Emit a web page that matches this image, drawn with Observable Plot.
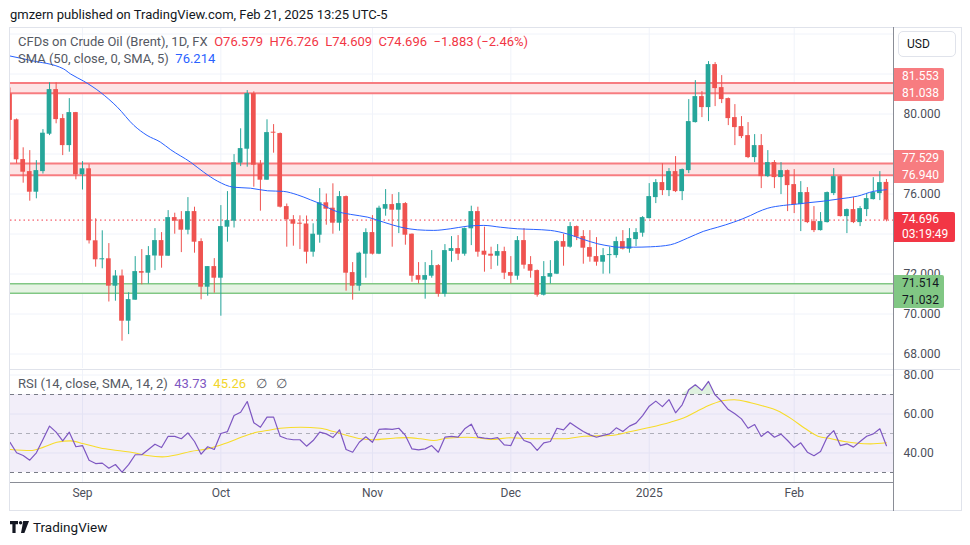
<!DOCTYPE html>
<html><head><meta charset="utf-8">
<script src="https://cdn.jsdelivr.net/npm/d3@7"></script>
<script src="https://cdn.jsdelivr.net/npm/@observablehq/plot@0.6"></script>
<style>
body{margin:0;width:970px;height:545px;background:#fff;font-family:Roboto,"Liberation Sans",sans-serif;position:relative;overflow:hidden;color:#131722}
.abs{position:absolute}
#hdr{left:10px;top:7px;font-size:13px;line-height:16px;white-space:pre;color:#131722}
.leg{position:absolute;font-size:13px;line-height:16px;color:#555963;white-space:pre}
.tag{position:absolute;font-size:12px;box-sizing:border-box;padding-left:8px;white-space:pre;border-radius:0 2px 2px 0}
#usd{left:898px;top:31px;width:58px;height:26px;box-sizing:border-box;border:1px solid #e0e3eb;border-radius:5px;font-size:12px;line-height:24px;padding-left:8px;background:#fff}
#brand{left:10px;top:519px;font-size:13.5px;line-height:16px;display:flex;align-items:center;gap:4px;color:#131722}
</style></head>
<body>
<div id="hdr" class="abs">gmzern published on TradingView.com, Feb 21, 2025 13:25 UTC-5</div>
<div id="price" class="abs" style="left:0;top:27px"></div>
<div id="rsi" class="abs" style="left:0;top:369px"></div>
<div id="deco"></div>
<script>
// ---------- data ----------
const open = [81.0,79.71,77.72,77.12,76.09,77.12,78.99,81.22,79.77,78.42,
80.07,76.96,77.26,73.66,72.71,72.76,71.39,71.9,69.64,70.69,
72.12,72.04,72.9,73.67,72.89,74.82,74.71,74.19,75.12,73.62,
71.34,72.37,71.79,74.34,74.64,77.54,78.24,81.02,77.49,76.69,
79.07,79.02,75.37,74.71,74.52,74.5,73.09,73.94,75.56,75.29,
74.54,75.87,72.07,71.39,72.99,74.07,72.99,75.24,75.47,75.19,
75.52,73.99,71.92,71.69,71.89,72.42,70.99,73.13,73.27,72.99,
74.26,75.12,73.14,72.99,72.89,73.12,72.07,71.89,73.67,72.47,
72.17,70.94,71.84,71.99,73.62,73.34,74.37,73.87,73.32,72.87,
72.59,72.92,72.92,73.62,73.24,73.72,74.04,74.77,75.82,76.57,
76.17,77.12,76.12,77.17,79.57,80.87,80.32,82.47,81.32,80.77,
79.82,79.37,78.92,77.82,78.42,76.87,77.57,76.82,77.17,76.47,
75.47,76.07,74.62,74.17,74.57,76.02,76.87,74.87,75.22,74.57,
75.22,75.72,76.02,76.579];
const high = [81.3,79.75,78.31,78.17,77.67,79.22,81.56,81.56,79.97,80.77,
80.08,77.62,77.47,74.76,74.16,73.52,72.17,72.2,71.06,72.87,
73.22,73.37,74.27,74.07,75.17,75.04,75.12,75.82,75.34,73.76,
72.37,72.77,75.42,76.12,77.97,79.26,81.17,81.11,77.67,79.71,
79.47,79.05,75.5,74.92,74.91,74.9,74.51,76.27,76.0,76.51,
76.12,75.9,72.57,73.09,74.26,74.92,75.39,76.22,75.97,76.07,
75.57,74.0,72.57,72.57,73.17,72.47,73.47,73.87,73.92,74.3,
75.39,75.34,74.34,73.34,73.47,73.34,72.87,73.87,74.27,72.87,
72.2,72.62,72.67,73.67,73.99,74.57,74.4,74.17,74.17,73.82,
73.27,73.34,73.84,74.17,74.27,74.27,74.87,76.52,76.72,77.52,
77.27,77.87,77.25,80.72,81.67,81.12,82.62,82.57,81.92,80.8,
80.47,79.87,79.57,78.97,78.97,78.17,77.67,77.57,77.2,77.22,
76.62,76.32,75.37,75.07,76.1,77.27,76.9,75.25,75.82,75.37,
76.02,76.82,77.12,76.726];
const low = [78.68,77.51,76.54,75.64,75.76,77.0,78.92,79.51,77.92,78.09,
76.71,76.2,73.5,72.34,72.26,70.6,70.64,68.64,68.97,70.69,
71.46,71.5,72.17,72.29,72.89,73.99,73.07,73.96,73.04,70.71,
70.89,71.04,69.89,73.59,74.3,77.37,77.34,76.34,75.14,76.69,
78.04,75.3,73.34,73.39,73.22,72.5,72.84,73.54,74.44,73.99,
74.14,71.14,70.69,71.14,71.79,72.95,72.97,74.89,73.34,74.02,
73.44,71.59,71.5,70.74,71.79,70.84,70.84,72.59,72.67,72.89,
73.42,72.84,72.09,72.22,72.39,71.72,71.5,71.69,72.24,71.79,
70.84,70.9,71.5,71.97,72.39,73.29,73.67,72.49,72.59,72.39,
71.99,72.0,72.79,73.2,73.04,73.37,73.84,74.75,75.52,75.92,
75.87,76.07,75.67,77.02,79.55,79.82,79.62,80.37,80.52,79.42,
78.42,78.77,77.77,77.57,76.27,76.82,76.27,75.97,75.12,75.02,
74.12,74.52,74.07,74.15,74.55,75.92,74.85,74.02,74.52,74.37,
74.87,75.7,75.67,74.609];
const close = [79.68,77.71,77.09,76.09,77.17,79.04,81.22,79.72,78.42,80.07,
76.96,77.26,73.66,72.71,72.76,71.39,71.9,69.64,70.72,72.12,
72.04,72.92,73.67,72.89,74.82,74.64,74.19,75.12,73.59,71.34,
72.37,71.79,74.37,74.67,77.57,78.27,81.02,77.44,76.69,79.07,
79.04,75.34,74.71,74.49,74.49,73.09,73.99,75.56,75.24,74.54,
75.87,72.04,71.39,73.04,74.07,72.99,75.29,75.47,75.19,75.52,
73.94,71.89,71.69,71.92,72.42,70.99,73.17,73.27,72.99,74.27,
75.12,73.09,72.94,72.89,73.12,72.04,71.89,73.67,72.44,72.14,
70.94,71.87,72.02,73.62,73.34,74.37,73.84,73.29,72.84,72.59,
72.92,72.97,73.62,73.24,73.77,74.07,74.82,75.87,76.57,76.17,
77.12,76.12,77.22,79.62,80.87,80.32,82.47,81.27,80.72,79.77,
79.32,78.87,77.82,78.42,76.87,77.57,76.82,77.17,76.42,75.47,
76.07,74.57,74.17,74.62,76.07,76.87,74.87,75.22,74.57,75.27,
75.77,76.07,76.57,74.696];

// SMA(50) readings: bar index -> value
const smaIdx = [0,3.1,8.1,9.2,11.2,13.7,16.3,18.8,20.8,22.8,24.4,27.4,29.4,31.5,33.9,36.5,39.1,41.5,43.6,45.6,47.5,49.1,51.7,54.3,56.7,59.3,61.8,64.3,66.8,69.4,71.9,74.4,77.0,79.4,82.0,84.6,87.0,89.2,91.1,92.2,94.6,97.2,100.2,102.8,105.2,107.4,109.8,112.4,113.4,115.0,117.4,119.5,121.0,123.4,126.0,128.6,131.0,133];
const smaVal = [82.9,82.68,82.26,82.0,81.64,81.09,80.34,79.43,78.93,78.6,78.21,77.59,77.09,76.64,76.34,76.29,76.16,76.13,75.96,75.71,75.45,75.18,74.98,74.84,74.59,74.34,74.21,74.18,74.26,74.39,74.43,74.34,74.26,74.23,74.18,74.0,73.73,73.51,73.39,73.34,73.34,73.36,73.46,73.79,74.13,74.34,74.59,74.93,75.09,75.29,75.43,75.5,75.56,75.64,75.76,75.89,76.13,76.214];

const rsi = [45.5,40.1,38.7,36.3,40.1,46.9,53.8,50.7,46.2,50.7,
43.2,43.8,36.3,34.6,34.8,32.2,34.1,30.2,34.0,39.1,
39.1,41.8,44.5,42.8,48.6,48.5,47.3,50.3,45.9,39.4,
43.2,41.8,50.0,51.0,59.2,60.9,66.4,55.5,53.2,58.4,
58.4,48.6,47.3,46.8,46.8,43.5,46.4,50.7,49.8,47.9,
51.9,41.8,40.4,45.5,48.3,45.5,52.1,52.4,52.1,52.7,
49.0,42.1,41.6,42.1,43.8,40.4,48.1,48.5,48.1,52.4,
54.8,48.1,47.6,47.3,47.9,44.2,43.8,51.0,46.4,45.2,
41.3,45.2,45.9,52.7,51.9,55.5,53.2,51.0,49.3,48.1,
49.0,49.8,52.9,51.0,53.8,55.3,59.2,64.0,66.6,63.8,
67.4,60.6,64.7,72.4,75.0,72.1,76.7,69.8,66.4,62.3,
60.1,57.5,52.7,54.6,48.5,51.0,48.1,49.7,46.4,42.8,
45.2,40.4,38.6,40.8,48.1,51.5,43.8,44.7,43.0,45.9,
48.6,49.8,52.4,43.73];
const rsiMaIdx = [0,3.1,5.1,7.1,9.2,11.2,13.7,16.3,18.8,20.8,23.1,25.4,27.4,29.9,32.5,34.5,37.0,39.0,41.0,44.1,47.1,49.1,51.2,53.2,55.2,58.2,60.3,62.3,64.3,66.3,69.4,71.4,73,76,79.1,84.1,87.1,91.2,94.2,97.2,100.2,102.2,104.2,106.3,108.3,109.9,112.4,114.4,116.4,118.6,120.6,122.6,124.6,126.6,128.6,130.6,133];
const rsiMaVal = [41.8,41.3,43.0,45.5,46.2,44.7,42.6,41.3,40.1,38.7,38.0,39.1,40.8,42.1,44.7,47.3,50.3,51.5,52.7,53.2,52.7,51.0,49.0,47.3,46.8,47.6,47.9,47.3,46.4,47.6,48.1,47.6,46.9,47.8,47.3,47.3,48.6,49.0,51.0,53.2,55.8,57.9,61.3,64.7,66.9,67.3,65.8,64.0,61.8,57.5,52.7,48.6,47.3,45.9,45.0,44.7,45.26];

const monthIdx = [11,32,55,76,97,119];
const monthLabels = ["Sep","Oct","Nov","Dec","2025","Feb"];
const priceGrid = [68,70,72,74,76,78,80,82,84];
const priceLabels = [68,70,72,76,80];   // the others sit under the price tags
const rsiTicks = [40,60,80];
const redZoneLo = [81.038, 76.940];
const redZoneHi = [81.553, 77.529];
const greenZoneLo = [71.032];
const greenZoneHi = [71.514];
const lastPrice = 74.696;
const countdown = "03:19:49";

// ---------- tables ----------
const bars = open.map((o,i)=>({i, o, h:high[i], l:low[i], c:close[i], up: close[i] >= o}));
const sma = smaIdx.map((x,k)=>({x, y:smaVal[k]}));
const rsiRows = rsi.map((v,i)=>({i, v}));
const rsiMa = rsiMaIdx.map((x,k)=>({x, y:rsiMaVal[k]}));
const zones = [
  ...redZoneLo.map((lo,k)=>({lo, hi:redZoneHi[k], fill:"#fde4e5", stroke:"#f77c80", sw:2})),
  ...greenZoneLo.map((lo,k)=>({lo, hi:greenZoneHi[k], fill:"#e5f3e3", stroke:"#81c784", sw:1.5}))
];
const zoneEdges = zones.flatMap(z=>[{v:z.lo, s:z.stroke, w:z.sw},{v:z.hi, s:z.stroke, w:z.sw}]);
const labelOf = new Map(monthIdx.map((d,k)=>[d, monthLabels[k]]));

const UP = "#26a69a", DOWN = "#ef5350";
const xDomain = [0.076, 134.07];
const font = 'Roboto, "Liberation Sans", sans-serif';

// ---------- price pane ----------
const pricePlot = Plot.plot({
  width: 960, height: 342,
  marginLeft: 10, marginRight: 67, marginTop: 1, marginBottom: 1,
  style: {background: "transparent", fontFamily: font, fontSize: "12px", color: "#4c4f5a"},
  x: {domain: xDomain, axis: null},
  y: {domain: [67.275, 84.275], axis: null},
  marks: [
    Plot.gridY(priceGrid, {stroke: "#f0f3fa", strokeOpacity: 1}),
    Plot.gridX(monthIdx, {stroke: "#f0f3fa", strokeOpacity: 1}),
    Plot.rect(zones, {x1: () => xDomain[0], x2: () => xDomain[1], y1: "lo", y2: "hi", fill: "fill"}),
    Plot.ruleY(zoneEdges, {y: "v", stroke: "s", strokeWidth: "w"}),
    Plot.ruleY([lastPrice], {stroke: "#f23645", strokeDasharray: "1.5,3", strokeWidth: 1}),
    Plot.ruleX(bars, {x: "i", y1: "l", y2: "h", stroke: d => d.up ? UP : DOWN, strokeWidth: 1, clip: true}),
    Plot.rect(bars, {
      x1: d => d.i - 0.36, x2: d => d.i + 0.36,
      y1: d => Math.min(d.o, d.c),
      y2: d => Math.max(d.o, d.c, Math.min(d.o, d.c) + 0.05),
      fill: d => d.up ? UP : DOWN, clip: true
    }),
    Plot.line(sma, {x: "x", y: "y", stroke: "#2962ff", strokeWidth: 1, curve: "monotone-x", clip: true}),
    Plot.axisY(priceLabels, {anchor: "right", tickSize: 0, tickPadding: 10, tickFormat: d => d.toFixed(3), fill: "#4c4f5a"})
  ]
});
document.getElementById("price").append(pricePlot);

// ---------- RSI pane ----------
const rsiPlot = Plot.plot({
  width: 960, height: 141,
  marginLeft: 10, marginRight: 67, marginTop: 1, marginBottom: 28,
  style: {background: "transparent", fontFamily: font, fontSize: "12px", color: "#4c4f5a"},
  x: {domain: xDomain},
  y: {domain: [24.87, 82.31], axis: null},
  marks: [
    Plot.gridY(rsiTicks, {stroke: "#f0f3fa", strokeOpacity: 1}),
    Plot.gridX(monthIdx, {stroke: "#f0f3fa", strokeOpacity: 1}),
    Plot.rect([0], {x1: () => xDomain[0], x2: () => xDomain[1], y1: () => 30, y2: () => 70, fill: "#7e57c2", fillOpacity: 0.1}),
    Plot.ruleY([70, 30], {stroke: "#787b86", strokeDasharray: "4,4"}),
    Plot.ruleY([50], {stroke: "#787b86", strokeOpacity: 0.55, strokeDasharray: "4,4"}),
    Plot.areaY(rsiRows, {x: "i", y1: () => 70, y2: d => Math.max(70, d.v), fill: "#4caf50", fillOpacity: 0.18, clip: true}),
    Plot.line(rsiMa, {x: "x", y: "y", stroke: "#f7dc2a", strokeWidth: 1.1, curve: "monotone-x", clip: true}),
    Plot.line(rsiRows, {x: "i", y: "v", stroke: "#7e57c2", strokeWidth: 1.2, clip: true}),
    Plot.axisY(rsiTicks, {anchor: "right", tickSize: 0, tickPadding: 10, tickFormat: d => d.toFixed(2), fill: "#4c4f5a"}),
    Plot.axisX(monthIdx, {anchor: "bottom", tickSize: 0, tickPadding: 6, tickFormat: d => labelOf.get(d), fill: "#4c4f5a"})
  ]
});
document.getElementById("rsi").append(rsiPlot);

// ---------- decorations (frame, separators, legends, tags) ----------
const deco = d3.select("#deco");
const box = (l,t,w,h,css) => deco.append("div").attr("class","abs")
  .attr("style", `left:${l}px;top:${t}px;width:${w}px;height:${h}px;${css}`);
box(9, 27, 953, 484, "box-sizing:border-box;border:1px solid #e0e3eb");
box(10, 369, 950, 1, "background:#e0e3eb");
box(10, 482, 883, 1, "background:#8a8d96");
box(893, 27, 1, 484, "background:#8a8d96");

const leg = (t, parts) => {
  const d = deco.append("div").attr("class","leg").style("left","18px").style("top", t+"px");
  parts.forEach(([txt,col]) => d.append("span").style("color", col).text(txt));
};
leg(34, [["CFDs on Crude Oil (Brent), 1D, FX  ", "#555963"],
  ["O" + open[133].toFixed(3) + "  H" + high[133].toFixed(3) + "  L" + low[133].toFixed(3) + "  C" + close[133].toFixed(3) + "  \u22121.883 (\u22122.46%)", "#f23645"]]);
leg(51, [["SMA (50, close, 0, SMA, 5)  ", "#555963"], [smaVal[smaVal.length-1].toFixed(3), "#2962ff"]]);
leg(376, [["RSI (14, close, SMA, 14, 2)  ", "#555963"], [rsi[rsi.length-1].toFixed(2), "#7e57c2"], ["  ", "#555963"],
  [rsiMaVal[rsiMaVal.length-1].toFixed(2), "#f2d52a"], ["   \u2205   \u2205", "#555963"]]);

deco.append("div").attr("id","usd").attr("class","abs").text("USD");

// price tags placed through the price scale
const ys = pricePlot.scale("y");
const top0 = 27;
function tag(lines, anchorVal, anchorLine, lineH, bg, col, w) {
  const yc = top0 + ys.apply(anchorVal);
  const t = yc - lineH/2 - anchorLine*lineH;
  const d = deco.append("div").attr("class","tag")
    .attr("style", `left:894px;top:${t}px;width:${w}px;height:${lineH*lines.length}px;background:${bg};color:${col};line-height:${lineH}px`);
  d.html(lines.join("<br>"));
}
redZoneLo.forEach((lo,k) => tag([redZoneHi[k].toFixed(3), lo.toFixed(3)], lo, 1, 16.2, "#f77c80", "#fff", 50));
greenZoneLo.forEach((lo,k) => tag([greenZoneHi[k].toFixed(3), lo.toFixed(3)], greenZoneHi[k], 0, 16.6, "#81c784", "#131722", 50));
tag([lastPrice.toFixed(3), countdown], lastPrice, 0, 15, "#f23645", "#fff", 61);

// brand
const br = deco.append("div").attr("id","brand").attr("class","abs");
br.html('<svg width="19" height="12" viewBox="0 0 19 12"><path d="M0 0h8v3.2h-2.4V12H2.4V3.2H0z" fill="#131722"/><circle cx="10.6" cy="1.7" r="1.7" fill="#131722"/><path d="M13.2 0h5.8l-4.6 12h-3.4z" fill="#131722"/></svg><span>TradingView</span>');
</script>
</body></html>
